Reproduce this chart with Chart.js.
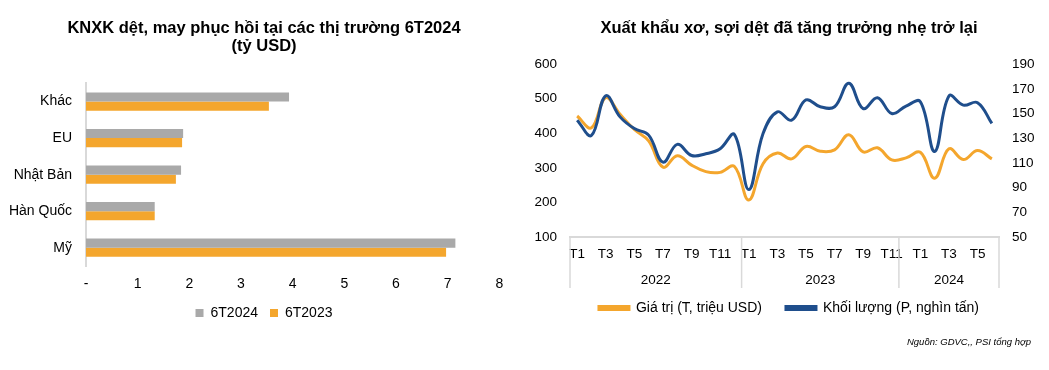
<!DOCTYPE html>
<html>
<head>
<meta charset="utf-8">
<script src="https://cdn.jsdelivr.net/npm/chart.js@4"></script>
<style>
  body { margin: 0; background: #fff; font-family: "Liberation Sans", Arial, sans-serif; }
  #wrap { position: relative; width: 1049px; height: 370px; }
  #left { position: absolute; left: 0; top: 0; width: 528px; height: 370px; }
  #right { position: absolute; left: 520px; top: 0; width: 529px; height: 370px; }
  #source { position: absolute; right: 18px; top: 336px; font-size: 9.5px; font-style: italic; color: #000; }
</style>
</head>
<body>
<div id="wrap">
  <div id="left"><canvas id="marketChart"></canvas></div>
  <div id="right"><canvas id="fiberChart"></canvas></div>
  <div id="source">Nguồn: GDVC,, PSI tổng hợp</div>
</div>
<script>
// left chart: export by market (bn USD)
const markets = ['Khác', 'EU', 'Nhật Bản', 'Hàn Quốc', 'Mỹ'];
const h1y2024 = [3.93, 1.88, 1.84, 1.33, 7.15];
const h1y2023 = [3.54, 1.86, 1.74, 1.33, 6.97];
const marketTicks = [0, 1, 2, 3, 4, 5, 6, 7, 8];

// right chart: fiber & yarn export, monthly 1/2022 - 6/2024
const months = ['T1', 'T2', 'T3', 'T4', 'T5', 'T6', 'T7', 'T8', 'T9', 'T10', 'T11', 'T12',
                'T1', 'T2', 'T3', 'T4', 'T5', 'T6', 'T7', 'T8', 'T9', 'T10', 'T11', 'T12',
                'T1', 'T2', 'T3', 'T4', 'T5', 'T6'];
const years = ['2022', '2023', '2024'];
const yearStart = [0, 12, 23]; // as in the source sheet, the 2024 group starts at T12
const valueUsd = [450, 416, 503, 455, 411, 378, 302, 335, 308, 289, 287, 304,
                  207, 312, 343, 326, 362, 348, 352, 396, 346, 358, 323, 329,
                  345, 270, 355, 324, 350, 326];
const volumeTons = [144.6, 132.3, 164.4, 147.3, 137.8, 132.5, 110.6, 125, 116, 117.4, 121.5, 133,
                    88.4, 133.8, 151.4, 144.6, 161, 155.5, 155.5, 174.5, 154, 162.8, 150, 156,
                    159.6, 119.3, 164.2, 156.8, 158.8, 142];
const valueTicks = [100, 200, 300, 400, 500, 600];
const volumeTicks = [50, 70, 90, 110, 130, 150, 170, 190];

const FONT = '"Liberation Sans", Arial, sans-serif';
Chart.defaults.font.family = FONT;
Chart.defaults.color = '#000';
Chart.defaults.animation = false;
Chart.defaults.responsive = true;
Chart.defaults.maintainAspectRatio = false;

new Chart(document.getElementById('marketChart'), {
    type: 'bar',
    data: {
        labels: markets,
        datasets: [
            { label: '6T2024', data: h1y2024, backgroundColor: '#A9A9A9', barPercentage: 1, categoryPercentage: 0.5 },
            { label: '6T2023', data: h1y2023, backgroundColor: '#F4A62D', barPercentage: 1, categoryPercentage: 0.5 }
        ]
    },
    options: {
        indexAxis: 'y',
        layout: { padding: { left: 0, right: 0, top: 0, bottom: 40 } },
        plugins: {
            title: {
                display: true,
                text: ['KNXK dệt, may phục hồi tại các thị trường 6T2024', '(tỷ USD)'],
                font: { size: 16.5, weight: 'bold', lineHeight: 1.1 },
                padding: { top: 19, bottom: 28 }
            },
            legend: {
                position: 'bottom',
                labels: { boxWidth: 8, boxHeight: 8, font: { size: 14 }, padding: 12 }
            },
            tooltip: { enabled: false }
        },
        scales: {
            x: {
                min: 0, max: 8,
                afterBuildTicks: s => { s.ticks = marketTicks.map(v => ({ value: v })); },
                afterFit: s => { s.height = 28; },
                grid: { display: false, drawTicks: false },
                border: { display: false },
                ticks: { font: { size: 14 }, padding: 10, callback: v => v === 0 ? '-' : v }
            },
            y: {
                afterFit: s => { s.width = 86; },
                grid: { display: false, drawTicks: false },
                border: { display: true, color: '#D9D9D9', width: 2 },
                ticks: { font: { size: 14 }, padding: 14 }
            },
            // empty spacer on the right so title and legend sit where the original has them
            spacer: {
                type: 'category',
                position: 'right',
                afterFit: s => { s.width = 28.7; },
                grid: { display: false, drawTicks: false },
                border: { display: false },
                ticks: { display: false }
            }
        }
    }
});

// year groups + separators under the month ticks
const yearGroups = {
    id: 'yearGroups',
    afterDraw(chart) {
        const x = chart.scales.x;
        const area = chart.chartArea;
        const ctx = chart.ctx;
        const edges = yearStart.map(i => i === 0 ? area.left : (x.getPixelForValue(i - 1) + x.getPixelForValue(i)) / 2);
        edges.push(area.right);
        ctx.save();
        ctx.strokeStyle = '#D9D9D9';
        ctx.lineWidth = 1.5;
        edges.forEach(px => {
            ctx.beginPath();
            ctx.moveTo(px, area.bottom);
            ctx.lineTo(px, area.bottom + 51);
            ctx.stroke();
        });
        ctx.fillStyle = '#000';
        ctx.font = '13.5px ' + FONT;
        ctx.textAlign = 'center';
        ctx.textBaseline = 'middle';
        years.forEach((y, k) => {
            ctx.fillText(y, (edges[k] + edges[k + 1]) / 2, area.bottom + 43);
        });
        ctx.restore();
    }
};

new Chart(document.getElementById('fiberChart'), {
    type: 'line',
    data: {
        labels: months,
        datasets: [
            { label: 'Giá trị (T, triệu USD)', data: valueUsd, yAxisID: 'y', borderColor: '#F4A62D', backgroundColor: '#F4A62D', order: 1 },
            { label: 'Khối lượng (P, nghìn tấn)', data: volumeTons, yAxisID: 'y1', borderColor: '#1F4E8C', backgroundColor: '#1F4E8C', order: 0 }
        ]
    },
    options: {
        layout: { padding: { left: 12, right: 3, top: 0, bottom: 45 } },
        elements: {
            line: { borderWidth: 3, tension: 0.4 },
            point: { radius: 0 }
        },
        plugins: {
            title: {
                display: true,
                text: 'Xuất khẩu xơ, sợi dệt đã tăng trưởng nhẹ trở lại',
                font: { size: 16.5, weight: 'bold', lineHeight: 1.1 },
                padding: { top: 19, bottom: 27 }
            },
            legend: {
                position: 'bottom',
                labels: {
                    boxWidth: 30, boxHeight: 3, font: { size: 14 }, padding: 24,
                    sort: (a, b) => a.datasetIndex - b.datasetIndex
                }
            },
            tooltip: { enabled: false }
        },
        scales: {
            x: {
                offset: true,
                afterFit: s => { s.height = 40; },
                grid: { display: false, drawTicks: false },
                border: { display: true, color: '#D9D9D9', width: 2 },
                ticks: {
                    font: { size: 13.5 }, padding: 9, autoSkip: false, maxRotation: 0,
                    callback: (v, i) => i % 2 === 0 ? months[i] : ''
                }
            },
            y: {
                position: 'left',
                min: 100, max: 600,
                afterBuildTicks: s => { s.ticks = valueTicks.map(v => ({ value: v })); },
                afterFit: s => { s.width = 38; },
                grid: { display: false, drawTicks: false },
                border: { display: false },
                ticks: { font: { size: 13.5 }, padding: 13 }
            },
            y1: {
                position: 'right',
                min: 50, max: 190,
                afterBuildTicks: s => { s.ticks = volumeTicks.map(v => ({ value: v })); },
                afterFit: s => { s.width = 47; },
                grid: { display: false, drawTicks: false },
                border: { display: false },
                ticks: { font: { size: 13.5 }, padding: 13 }
            }
        }
    },
    plugins: [yearGroups]
});
</script>
</body>
</html>
